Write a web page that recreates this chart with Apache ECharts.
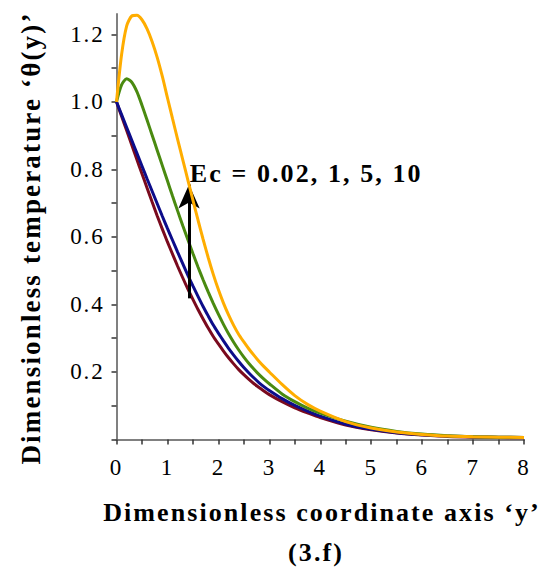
<!DOCTYPE html>
<html>
<head>
<meta charset="utf-8">
<script src="https://cdn.jsdelivr.net/npm/echarts@6/dist/echarts.min.js"></script>
<style>html,body{margin:0;padding:0;background:#fff;}#c{width:555px;height:572px;}#c text{letter-spacing:0.08em;}</style>
</head>
<body>
<div id="c"></div>
<script>
// sample positions along y (coordinate axis)
const xs = [0,0.1,0.2,0.3,0.4,0.5,0.6,0.7,0.8,0.9,1.0,1.1,1.2,1.3,1.4,1.5,1.6,1.7,1.8,1.9,2.0,2.1,2.2,2.3,2.4,2.5,2.6,2.7,2.8,2.9,3.0,
            3.25,3.5,3.75,4.0,4.5,5.0,5.5,6.0,6.5,7.0,7.5,8.0];
// theta(y) for each Ec
const ec002 = [1.000,0.957,0.915,0.872,0.829,0.787,0.745,0.703,0.662,0.623,0.585,0.549,0.513,0.479,0.446,0.415,0.385,0.357,0.330,0.305,0.283,0.262,0.242,0.224,0.207,0.192,0.178,0.165,0.154,0.143,0.133,
               0.112,0.094,0.079,0.065,0.043,0.029,0.019,0.013,0.009,0.007,0.006,0.005];
const ec1   = [1.000,0.962,0.924,0.886,0.848,0.810,0.772,0.735,0.698,0.661,0.625,0.590,0.555,0.521,0.487,0.455,0.424,0.394,0.366,0.339,0.315,0.292,0.270,0.250,0.231,0.213,0.197,0.182,0.168,0.156,0.145,
               0.121,0.101,0.084,0.069,0.045,0.030,0.020,0.014,0.010,0.008,0.007,0.006];
const ec5   = [1.000,1.050,1.068,1.058,1.030,0.990,0.946,0.901,0.856,0.811,0.766,0.721,0.677,0.634,0.592,0.551,0.511,0.473,0.437,0.403,0.371,0.341,0.313,0.288,0.265,0.244,0.225,0.208,0.192,0.178,0.165,
               0.135,0.112,0.093,0.078,0.054,0.036,0.024,0.016,0.011,0.008,0.007,0.006];
const ec10  = [1.000,1.140,1.225,1.254,1.256,1.243,1.216,1.178,1.131,1.075,1.012,0.950,0.889,0.829,0.769,0.709,0.650,0.593,0.539,0.489,0.444,0.404,0.369,0.338,0.311,0.289,0.268,0.249,0.231,0.215,0.200,
               0.163,0.130,0.104,0.084,0.053,0.034,0.022,0.015,0.010,0.008,0.007,0.006];
const seriesNames = ['Ec = 0.02','Ec = 1','Ec = 5','Ec = 10'];
const seriesColors = ['#7a0a1e','#0c0c8a','#4a8a10','#ffad00'];
const xTicks = [0,1,2,3,4,5,6,7,8];
const xMinorTicks = [0,0.5,1,1.5,2,2.5,3,3.5,4,4.5,5,5.5,6,6.5,7,7.5,8];
const yLabels = [0.2,0.4,0.6,0.8,1.0,1.2];
const yTicks = [0,0.1,0.2,0.3,0.4,0.5,0.6,0.7,0.8,0.9,1.0,1.1,1.2];
const annotationText = 'Ec = 0.02, 1, 5, 10';
const arrowFrom = [1.424, 0.418];
const arrowTo = [1.424, 0.755];
const annotationAt = [1.44, 0.789];

const allSeries = [ec002, ec1, ec5, ec10];
const chart = echarts.init(document.getElementById('c'), null, {renderer:'svg'});
const serif = 'Liberation Serif, Times New Roman, serif';

const series = allSeries.map((vals, i) => ({
  name: seriesNames[i],
  type: 'line',
  data: xs.map((x, j) => [x, vals[j]]),
  smooth: 0.25,
  showSymbol: false,
  lineStyle: {color: seriesColors[i], width: 3},
  itemStyle: {color: seriesColors[i]},
  z: 2 + i
}));
series.push({
  type: 'line', data: [], z: 10,
  markLine: {
    silent: true,
    symbol: ['none', 'arrow'],
    symbolSize: [16, 24],
    label: {show: false},
    lineStyle: {color: '#000', width: 3, type: 'solid'},
    data: [[{coord: arrowFrom}, {coord: arrowTo}]]
  }
});

chart.setOption({
  animation: false,
  backgroundColor: '#fff',
  grid: {left: 116.5, right: 31, top: 14, bottom: 132.5},
  xAxis: {
    type: 'value', min: 0, max: 8, interval: 1,
    axisLine: {show: true, lineStyle: {color: '#808080', width: 2}},
    axisTick: {show: true, customValues: xMinorTicks, length: 5, lineStyle: {color: '#333', width: 1.5}},
    axisLabel: {customValues: xTicks, color: '#000', fontFamily: serif, fontSize: 23, margin: 16},
    splitLine: {show: false}
  },
  yAxis: {
    type: 'value', min: 0, max: 1.26,
    axisLine: {show: true, lineStyle: {color: '#808080', width: 2}},
    axisTick: {show: true, customValues: yTicks, length: 5, lineStyle: {color: '#333', width: 1.5}},
    axisLabel: {customValues: yLabels, color: '#000', fontFamily: serif, fontSize: 23, margin: 12,
      formatter: v => v.toFixed(1)},
    splitLine: {show: false}
  },
  series: series
});

const p = chart.convertToPixel({gridIndex: 0}, annotationAt);
chart.setOption({
  graphic: [
    {type: 'text', x: p[0], y: p[1], style: {text: annotationText, fill: '#000',
      font: 'bold 26px ' + serif, textAlign: 'left', textVerticalAlign: 'middle'}, z: 20},
    {type: 'text', x: 322, y: 512, style: {text: 'Dimensionless coordinate axis \u2018y\u2019', fill: '#000',
      font: 'bold 26px ' + serif, textAlign: 'center', textVerticalAlign: 'middle'}},
    {type: 'text', x: 316, y: 552, style: {text: '(3.f)', fill: '#000',
      font: 'bold 26px ' + serif, textAlign: 'center', textVerticalAlign: 'middle'}},
    {type: 'text', x: 31, y: 238, rotation: Math.PI / 2, style: {text: 'Dimensionless temperature \u2018\u03b8(y)\u2019', fill: '#000',
      font: 'bold 27px ' + serif, textAlign: 'center', textVerticalAlign: 'middle'}}
  ]
});
</script>
</body>
</html>
